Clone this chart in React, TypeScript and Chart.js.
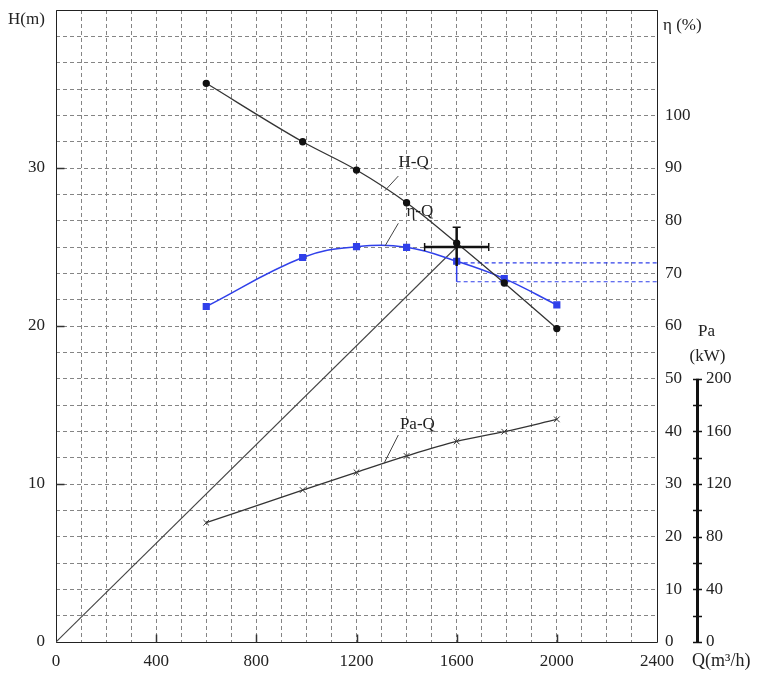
import React, { useEffect, useRef } from 'react';
import { Chart, registerables } from 'chart.js';

Chart.register(...registerables);

// ---- data ----
const flowQ = [600, 985, 1200, 1400, 1600, 1790, 2000];
const headH = [35.36, 31.66, 29.87, 27.8, 25.25, 22.72, 19.84];
const effEta = [63.7, 73.0, 75.06, 74.94, 72.3, 69.0, 64.0];
const powerPa = [90.6, 115.4, 128.9, 141.3, 152.3, 159.7, 169.1];

// system line through origin to the rated point
const systemQ = [0, 1600];
const systemH = [0, 25];

// rated point with tolerance bars
const ratedQ = 1600;
const ratedH = 25;
const ratedQRange = [1472, 1728];
const ratedHRange = [26.25, 23.8];
const ratedEtaLevels = [72, 68.4];
const etaLineEndQ = 2400;

// axes
const qMax = 2400;
const qGridStep = 100;
const qLabelStep = 400;
const hMax = 40;
const gridDivisions = 24;
const hLabels = [0, 10, 20, 30];
const etaMax = 120;
const etaLabelMax = 100;
const paMax = 480;
const paAxisTop = 200;
const paTickStep = 20;
const paLabelStep = 40;

// curve labels (data coordinates) with leader lines
const curveLabelText = ['H-Q', 'η-Q', 'Pa-Q'];
const curveLabelAxis = ['y', 'eta', 'pa'];
const curveLabelQ = [1428, 1453, 1443];
const curveLabelV = [30.35, 81.7, 164.8];
const leaderFromQ = [1367, 1367, 1367];
const leaderFromV = [29.49, 79.5, 157.2];
const leaderToQ = [1313, 1314, 1310];
const leaderToV = [28.56, 75.2, 135.7];

const FONT = "'Liberation Serif', 'DejaVu Serif', serif";
const TXT = '#222';
const GRID = '#858585';
const BLUE = '#3040ea';

const pts = (xs: number[], ys: number[]) => xs.map((x, i) => ({ x, y: ys[i] }));

const noPad = (s: any) => {
  s.paddingTop = 0;
  s.paddingBottom = 0;
  s.paddingLeft = 0;
  s.paddingRight = 0;
};

const decorPlugin = {
  id: 'decor',
  beforeDatasetsDraw(chart: any) {
    const { ctx, chartArea: a, scales } = chart;
    ctx.save();
    ctx.setLineDash([]);
    ctx.strokeStyle = '#222';
    ctx.lineWidth = 1;
    const l = Math.round(a.left) + 0.5;
    const t = Math.round(a.top) + 0.5;
    const r = Math.round(a.right) + 0.5;
    const b = Math.round(a.bottom) + 0.5;
    ctx.beginPath();
    ctx.moveTo(l, t);
    ctx.lineTo(r, t);
    ctx.lineTo(r, b);
    ctx.lineTo(l, b);
    ctx.closePath();
    ctx.stroke();
    // inward ticks
    ctx.lineWidth = 1.5;
    ctx.strokeStyle = '#333';
    hLabels.forEach((v) => {
      if (v === 0) return;
      const y = Math.round(scales.y.getPixelForValue(v)) + 0.5;
      ctx.beginPath();
      ctx.moveTo(l, y);
      ctx.lineTo(l + 8, y);
      ctx.stroke();
    });
    for (let q = qLabelStep; q < qMax; q += qLabelStep) {
      const x = Math.round(scales.x.getPixelForValue(q)) + 0.5;
      ctx.beginPath();
      ctx.moveTo(x, b);
      ctx.lineTo(x, b - 8);
      ctx.stroke();
    }
    ctx.restore();
  },
  afterDraw(chart: any) {
    const { ctx, chartArea: a, scales } = chart;
    ctx.save();
    ctx.setLineDash([]);
    ctx.fillStyle = TXT;
    ctx.strokeStyle = '#111';
    // Pa axis
    const pa = scales.pa;
    const px = Math.round(pa.left + 5) + 0.5;
    const y0 = pa.getPixelForValue(0);
    const y1 = pa.getPixelForValue(paAxisTop);
    ctx.lineWidth = 3;
    ctx.beginPath();
    ctx.moveTo(px, y0 + 1);
    ctx.lineTo(px, y1);
    ctx.stroke();
    ctx.lineWidth = 1.5;
    for (let v = 0; v <= paAxisTop; v += paTickStep) {
      const y = Math.round(pa.getPixelForValue(v)) + 0.5;
      ctx.beginPath();
      ctx.moveTo(px - 4.5, y);
      ctx.lineTo(px + 4.5, y);
      ctx.stroke();
    }
    // titles
    ctx.font = `17px ${FONT}`;
    ctx.textBaseline = 'middle';
    ctx.textAlign = 'left';
    ctx.fillText('H(m)', 8, 20);
    ctx.fillText('η (%)', a.right + 6, 26);
    ctx.font = `18px ${FONT}`;
    ctx.fillText('Q(m³/h)', a.right + 35, a.bottom + 19);
    ctx.font = `17px ${FONT}`;
    ctx.textAlign = 'center';
    ctx.fillText('Pa', px + 9, y1 - 47);
    ctx.fillText('(kW)', px + 10, y1 - 22);
    // curve labels
    ctx.font = `17px ${FONT}`;
    ctx.strokeStyle = '#444';
    ctx.lineWidth = 1;
    curveLabelText.forEach((txt, i) => {
      const sy = scales[curveLabelAxis[i]];
      const x = scales.x.getPixelForValue(curveLabelQ[i]);
      const y = sy.getPixelForValue(curveLabelV[i]);
      ctx.fillText(txt, x, y);
      ctx.beginPath();
      ctx.moveTo(scales.x.getPixelForValue(leaderFromQ[i]), sy.getPixelForValue(leaderFromV[i]));
      ctx.lineTo(scales.x.getPixelForValue(leaderToQ[i]), sy.getPixelForValue(leaderToV[i]));
      ctx.stroke();
    });
    ctx.restore();
  },
};

export default function App() {
  const ref = useRef<HTMLCanvasElement | null>(null);
  useEffect(() => {
    document.body.style.margin = '0';
    const canvas = ref.current;
    if (!canvas) return;
    Chart.defaults.font.family = FONT;
    const chart = new Chart(canvas, {
      type: 'line',
      data: {
        datasets: [
          {
            label: 'cross-h',
            data: [{ x: ratedQRange[0], y: ratedH }, { x: ratedQRange[1], y: ratedH }],
            yAxisID: 'y',
            borderColor: '#111',
            borderWidth: 2.5,
            pointStyle: 'line',
            pointRotation: 90,
            pointRadius: 4,
            pointBorderColor: '#111',
            pointBorderWidth: 1.5,
            order: 0,
          },
          {
            label: 'cross-v',
            data: [{ x: ratedQ, y: ratedHRange[0] }, { x: ratedQ, y: ratedHRange[1] }],
            yAxisID: 'y',
            borderColor: '#111',
            borderWidth: 2.5,
            pointStyle: 'line',
            pointRadius: [4, 0],
            pointBorderColor: '#111',
            pointBorderWidth: 1.5,
            order: 1,
          },
          {
            label: 'H-Q',
            data: pts(flowQ, headH),
            yAxisID: 'y',
            borderColor: '#333',
            borderWidth: 1.3,
            pointStyle: 'circle',
            pointRadius: 3,
            pointBackgroundColor: '#111',
            pointBorderColor: '#111',
            cubicInterpolationMode: 'monotone',
            order: 2,
          },
          {
            label: 'eta-Q',
            data: pts(flowQ, effEta),
            yAxisID: 'eta',
            borderColor: BLUE,
            borderWidth: 1.5,
            pointStyle: 'rect',
            pointRadius: 4,
            pointBackgroundColor: BLUE,
            pointBorderColor: BLUE,
            tension: 0.4,
            order: 3,
          },
          {
            label: 'eta-v',
            data: [
              { x: ratedQ, y: ratedEtaLevels[0] },
              { x: ratedQ, y: ratedEtaLevels[1] },
            ],
            yAxisID: 'eta',
            borderColor: BLUE,
            borderWidth: 1.5,
            pointRadius: 0,
            order: 4,
          },
          {
            label: 'eta-dash-1',
            data: [
              { x: ratedQ, y: ratedEtaLevels[0] },
              { x: etaLineEndQ, y: ratedEtaLevels[0] },
            ],
            yAxisID: 'eta',
            borderColor: BLUE,
            borderWidth: 1.2,
            borderDash: [4, 3],
            pointRadius: 0,
            order: 5,
          },
          {
            label: 'eta-dash-2',
            data: [
              { x: ratedQ, y: ratedEtaLevels[1] },
              { x: etaLineEndQ, y: ratedEtaLevels[1] },
            ],
            yAxisID: 'eta',
            borderColor: BLUE,
            borderWidth: 1.2,
            borderDash: [4, 3],
            pointRadius: 0,
            order: 6,
          },
          {
            label: 'Pa-Q',
            data: pts(flowQ, powerPa),
            yAxisID: 'pa',
            borderColor: '#333',
            borderWidth: 1.3,
            pointStyle: 'crossRot',
            pointRadius: 4,
            pointBorderColor: '#333',
            pointBorderWidth: 1,
            cubicInterpolationMode: 'monotone',
            order: 7,
          },
          {
            label: 'system',
            data: pts(systemQ, systemH),
            yAxisID: 'y',
            borderColor: '#444',
            borderWidth: 1.1,
            pointRadius: 0,
            order: 8,
          },
        ],
      },
      options: {
        animation: false,
        responsive: false,
        devicePixelRatio: 1,
        layout: { padding: { top: 10, left: 0, right: 0, bottom: 0 } },
        plugins: { legend: { display: false }, tooltip: { enabled: false } },
        events: [],
        scales: {
          x: {
            type: 'linear',
            min: 0,
            max: qMax,
            afterBuildTicks: (s: any) => {
              const t = [];
              for (let v = 0; v <= qMax; v += qGridStep) t.push({ value: v });
              s.ticks = t;
            },
            afterFit: (s: any) => {
              s.height = 38;
              noPad(s);
            },
            ticks: {
              autoSkip: false,
              maxRotation: 0,
              minRotation: 0,
              padding: 9,
              color: TXT,
              font: { size: 17, family: FONT },
              callback: (v: any) => (Number(v) % qLabelStep === 0 ? String(v) : ''),
            },
            grid: { color: GRID, lineWidth: 1, drawTicks: false },
            border: { display: false, dash: [4, 3] },
          },
          y: {
            type: 'linear',
            position: 'left',
            min: 0,
            max: hMax,
            afterBuildTicks: (s: any) => {
              const t = [];
              for (let i = 0; i <= gridDivisions; i++) t.push({ value: (i * hMax) / gridDivisions });
              s.ticks = t;
            },
            afterFit: (s: any) => {
              s.width = 56;
              noPad(s);
            },
            ticks: {
              autoSkip: false,
              padding: 11,
              color: TXT,
              font: { size: 17, family: FONT },
              callback: (v: any) => {
                const n = Number(v);
                const r = Math.round(n);
                return hLabels.includes(r) && Math.abs(n - r) < 1e-6 ? String(r) : '';
              },
            },
            grid: { color: GRID, lineWidth: 1, drawTicks: false },
            border: { display: false, dash: [4, 3] },
          },
          eta: {
            type: 'linear',
            position: 'right',
            weight: 1,
            min: 0,
            max: etaMax,
            afterFit: (s: any) => {
              s.width = 35;
              noPad(s);
            },
            ticks: {
              stepSize: 10,
              autoSkip: false,
              padding: 8,
              color: TXT,
              font: { size: 17, family: FONT },
              callback: (v: any) => (Number(v) <= etaLabelMax ? String(v) : ''),
            },
            grid: { display: false, drawTicks: false },
            border: { display: false },
          },
          pa: {
            type: 'linear',
            position: 'right',
            weight: 2,
            min: 0,
            max: paMax,
            afterBuildTicks: (s: any) => {
              const t = [];
              for (let v = 0; v <= paAxisTop; v += paTickStep) t.push({ value: v });
              s.ticks = t;
            },
            afterFit: (s: any) => {
              s.width = 66;
              noPad(s);
            },
            ticks: {
              autoSkip: false,
              padding: 14,
              color: TXT,
              font: { size: 17, family: FONT },
              callback: (v: any) => (Number(v) % paLabelStep === 0 ? String(v) : ''),
            },
            grid: { display: false, drawTicks: false },
            border: { display: false },
          },
        },
      },
      plugins: [decorPlugin],
    } as any);
    return () => chart.destroy();
  }, []);
  return (
    <div style={{ position: 'fixed', left: 0, top: 0, width: 758, height: 680, background: '#fff' }}>
      <canvas ref={ref} width={758} height={680} style={{ display: 'block' }} />
    </div>
  );
}
